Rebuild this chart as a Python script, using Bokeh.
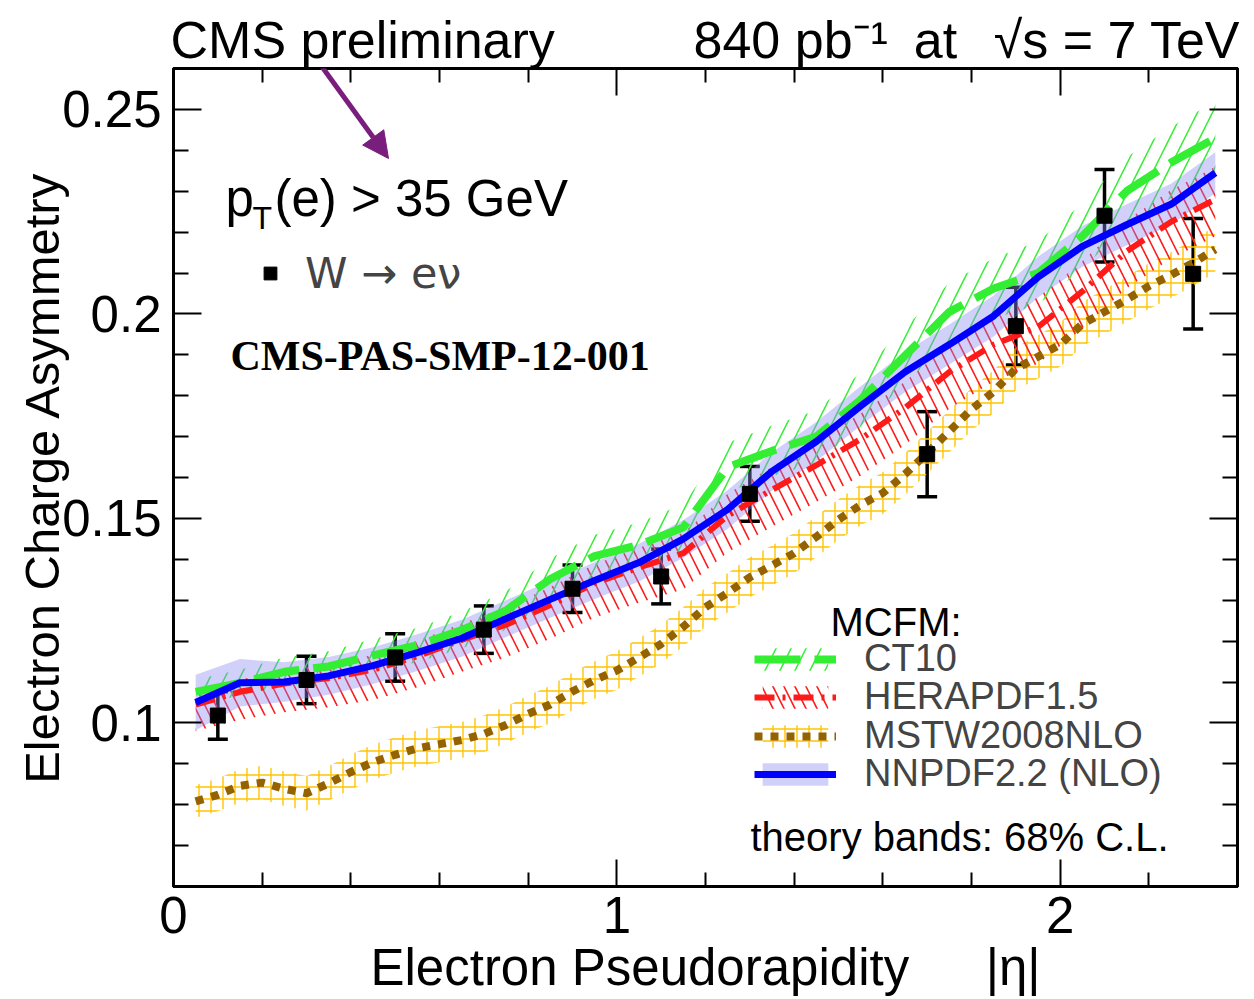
import numpy as np
from bokeh.plotting import figure
from bokeh.models import (ColumnDataSource, Whisker, TeeHead, Label, Legend, LegendItem,
                          LinearAxis, FixedTicker, Arrow, NormalHead)
from bokeh.embed import file_html
from bokeh.resources import INLINE

# ---------------- data ----------------
eta_data = [0.1, 0.3, 0.5, 0.7, 0.9, 1.1, 1.3, 1.7, 1.9, 2.1, 2.3]
asym_data = [0.1018, 0.1105, 0.1160, 0.1228, 0.1328, 0.1358, 0.1560, 0.1657, 0.1970, 0.2240, 0.2098]
asym_err = [0.0058, 0.0058, 0.0058, 0.0058, 0.0058, 0.0067, 0.0067, 0.0104, 0.0095, 0.0113, 0.0135]

eta_th = [0.05, 0.15, 0.25, 0.35, 0.45, 0.55, 0.65, 0.75, 0.85, 0.95, 1.05, 1.15,
          1.25, 1.35, 1.45, 1.55, 1.65, 1.75, 1.85, 1.95, 2.05, 2.15, 2.25, 2.35]

ct10 = [0.1076, 0.1098, 0.1125, 0.1138, 0.1165, 0.1190, 0.1227, 0.1275, 0.1352, 0.1408, 0.1435, 0.1478,
        0.1625, 0.1665, 0.1700, 0.1790, 0.1898, 0.2005, 0.2062, 0.2100, 0.2190, 0.2300, 0.2370, 0.2430]
ct10_err = [0.0030, 0.0032, 0.0035, 0.0037, 0.0040, 0.0042, 0.0045, 0.0047, 0.0050, 0.0052, 0.0055, 0.0057,
            0.0060, 0.0062, 0.0064, 0.0066, 0.0068, 0.0071, 0.0074, 0.0077, 0.0080, 0.0083, 0.0087, 0.0090]

hera = [0.1045, 0.1076, 0.1096, 0.1110, 0.1130, 0.1163, 0.1203, 0.1240, 0.1288, 0.1342, 0.1380, 0.1415,
        0.1507, 0.1570, 0.1630, 0.1694, 0.1770, 0.1858, 0.1925, 0.1968, 0.2055, 0.2153, 0.2225, 0.2280]
hera_err_up = [0.0030, 0.0030, 0.0032, 0.0034, 0.0036, 0.0038, 0.0040, 0.0042, 0.0044, 0.0046, 0.0048, 0.0050,
               0.0053, 0.0056, 0.0059, 0.0062, 0.0065, 0.0068, 0.0070, 0.0072, 0.0074, 0.0076, 0.0078, 0.0080]
hera_err_dn = [0.0065, 0.0068, 0.0070, 0.0072, 0.0074, 0.0076, 0.0078, 0.0080, 0.0082, 0.0084, 0.0086, 0.0088,
               0.0090, 0.0090, 0.0090, 0.0090, 0.0090, 0.0090, 0.0090, 0.0090, 0.0090, 0.0090, 0.0090, 0.0090]

nnpdf = [0.1050, 0.1098, 0.1100, 0.1115, 0.1140, 0.1172, 0.1207, 0.1255, 0.1302, 0.1348, 0.1392, 0.1450,
         0.1522, 0.1615, 0.1688, 0.1775, 0.1858, 0.1925, 0.1995, 0.2090, 0.2165, 0.2218, 0.2268, 0.2345]
nnpdf_err = [0.0068, 0.0058, 0.0048, 0.0046, 0.0045, 0.0045, 0.0045, 0.0045, 0.0045, 0.0045, 0.0046, 0.0046,
             0.0047, 0.0047, 0.0048, 0.0048, 0.0049, 0.0049, 0.0050, 0.0050, 0.0050, 0.0050, 0.0050, 0.0050]

eta_mstw = [0.05, 0.10, 0.15, 0.20, 0.25, 0.30, 0.35, 0.40, 0.45, 0.50,
            0.55, 0.60, 0.65, 0.70, 0.75, 0.80, 0.85, 0.90, 0.95, 1.00,
            1.05, 1.10, 1.15, 1.20, 1.25, 1.30, 1.35, 1.40, 1.45, 1.50,
            1.55, 1.60, 1.65, 1.70, 1.75, 1.80, 1.85, 1.90, 1.95, 2.00,
            2.05, 2.10, 2.15, 2.20, 2.25, 2.30, 2.35]
mstw = [0.0808, 0.0824, 0.0846, 0.0854, 0.0839, 0.0828, 0.0852, 0.0880, 0.0904, 0.0922,
        0.0938, 0.0948, 0.0958, 0.0973, 0.0995, 0.1022, 0.1045, 0.1077, 0.1105, 0.1128,
        0.1160, 0.1193, 0.1235, 0.1283, 0.1318, 0.1356, 0.1385, 0.1415, 0.1455, 0.1497,
        0.1533, 0.1562, 0.1608, 0.1660, 0.1713, 0.1767, 0.1810, 0.1866, 0.1895, 0.1925,
        0.1975, 0.2005, 0.2035, 0.2068, 0.2095, 0.2125, 0.2158]
mstw_err = [0.0040, 0.0040, 0.0041, 0.0041, 0.0042, 0.0042, 0.0042, 0.0043, 0.0043, 0.0043,
            0.0044, 0.0044, 0.0044, 0.0045, 0.0045, 0.0045, 0.0046, 0.0046, 0.0046, 0.0047,
            0.0047, 0.0047, 0.0048, 0.0048, 0.0048, 0.0049, 0.0049, 0.0049, 0.0050, 0.0050,
            0.0050, 0.0051, 0.0051, 0.0051, 0.0052, 0.0052, 0.0052, 0.0053, 0.0053, 0.0054,
            0.0054, 0.0055, 0.0055, 0.0056, 0.0056, 0.0057, 0.0057]

x_major = [0, 1, 2]
x_minor = [0.2, 0.4, 0.6, 0.8, 1.2, 1.4, 1.6, 1.8, 2.2]
y_major = [0.1, 0.15, 0.2, 0.25]
y_major_labels = ["0.1", "0.15", "0.2", "0.25"]
y_minor = [0.06, 0.07, 0.08, 0.09, 0.11, 0.12, 0.13, 0.14, 0.16, 0.17, 0.18, 0.19,
           0.21, 0.22, 0.23, 0.24, 0.26]

EM = "\u2003"
EN = "\u2002"
SX = "\u2006"
TH = "\u2009"
top_text = ("CMS preliminary" + EM + EM + EN + SX +
            "840 pb\u207b\u00b9" + EN + "at" + EN + TH + "\u221as = 7 TeV")
x_title = "Electron Pseudorapidity" + EM + EN + "|\u03b7|"
y_title = "Electron Charge Asymmetry"

# ---------------- colours ----------------
GREEN = "#33ee33"
RED = "#ff1a1a"
BROWN = "#946200"
GOLD = "#ffc400"
BLUE = "#0000ff"
PURPLE = "#7a1e7e"
FONT = "Liberation Sans"

# ---------------- figure ----------------
p = figure(width=1254, height=999, x_range=(0, 2.4), y_range=(0.06, 0.26),
           output_backend="svg", toolbar_location=None,
           min_border_left=173, min_border_right=17, min_border_top=68, min_border_bottom=113)
p.xgrid.visible = False
p.ygrid.visible = False
p.outline_line_color = "black"
p.outline_line_width = 3
p.background_fill_color = "white"
p.border_fill_color = "white"

xt = FixedTicker(ticks=x_major, minor_ticks=x_minor)
yt = FixedTicker(ticks=y_major, minor_ticks=y_minor)

def style_axis(ax, major_len, minor_len, show_labels):
    ax.axis_line_width = 3
    ax.axis_line_color = "black"
    ax.major_tick_in = major_len
    ax.major_tick_out = 0
    ax.minor_tick_in = minor_len
    ax.minor_tick_out = 0
    ax.major_tick_line_width = 2
    ax.minor_tick_line_width = 2
    ax.major_tick_line_color = "black"
    ax.minor_tick_line_color = "black"
    ax.axis_label_text_font = FONT
    ax.axis_label_text_font_style = "normal"
    ax.axis_label_text_color = "black"
    if show_labels:
        ax.major_label_text_font = FONT
        ax.major_label_text_font_size = "51px"
        ax.major_label_text_color = "black"
    else:
        ax.major_label_text_font_size = "1px"
        ax.major_label_text_color = None
        ax.major_label_standoff = 0

xa = p.xaxis[0]
xa.ticker = xt
style_axis(xa, 27, 14, True)
xa.major_label_standoff = 10
xa.axis_label = x_title
xa.axis_label_text_font_size = "51px"
xa.axis_label_standoff = 3

ya = p.yaxis[0]
ya.ticker = yt
style_axis(ya, 28, 15, True)
ya.major_label_standoff = 12
ya.major_label_overrides = {v: s for v, s in zip(y_major, y_major_labels)}
ya.axis_label = y_title
ya.axis_label_text_font_size = "49px"
ya.axis_label_standoff = -10

top_ax = LinearAxis(ticker=xt)
style_axis(top_ax, 27, 14, False)
top_ax.axis_label = top_text
top_ax.axis_label_text_font_size = "52px"
top_ax.axis_label_standoff = 0
p.add_layout(top_ax, "above")
right_ax = LinearAxis(ticker=yt)
style_axis(right_ax, 28, 15, False)
p.add_layout(right_ax, "right")

# ---------------- theory bands ----------------
th = ColumnDataSource(dict(
    eta=eta_th,
    ct10=ct10,
    ct10_lo=[c - e for c, e in zip(ct10, ct10_err)],
    ct10_hi=[c + e for c, e in zip(ct10, ct10_err)],
    hera=hera,
    hera_lo=[c - e for c, e in zip(hera, hera_err_dn)],
    hera_hi=[c + e for c, e in zip(hera, hera_err_up)],
    nnpdf=nnpdf,
    nnpdf_lo=[c - e for c, e in zip(nnpdf, nnpdf_err)],
    nnpdf_hi=[c + e for c, e in zip(nnpdf, nnpdf_err)],
))
ms = ColumnDataSource(dict(
    eta=eta_mstw, mstw=mstw,
    lo=[c - e for c, e in zip(mstw, mstw_err)],
    hi=[c + e for c, e in zip(mstw, mstw_err)],
))

b_mstw = p.varea(x="eta", y1="lo", y2="hi", source=ms, fill_color=None,
                 hatch_pattern="+", hatch_color=GOLD, hatch_scale=12, hatch_weight=1.4)
b_hera = p.varea(x="eta", y1="hera_lo", y2="hera_hi", source=th, fill_color=None,
                 hatch_pattern="\\", hatch_color=RED, hatch_scale=22, hatch_weight=1.6)
b_ct10 = p.varea(x="eta", y1="ct10_lo", y2="ct10_hi", source=th, fill_color=None,
                 hatch_pattern="/", hatch_color=GREEN, hatch_scale=30, hatch_weight=1.5)
b_nnpdf = p.varea(x="eta", y1="nnpdf_lo", y2="nnpdf_hi", source=th,
                  fill_color="#8a8af5", fill_alpha=0.40)

# ---------------- theory lines ----------------
l_mstw = p.line("eta", "mstw", source=ms, line_color=BROWN, line_width=8, line_dash="8 8")
l_hera = p.line("eta", "hera", source=th, line_color=RED, line_width=6, line_dash="20 8 3 8")
l_ct10 = p.line("eta", "ct10", source=th, line_color=GREEN, line_width=8, line_dash="46 14")
l_nnpdf = p.line("eta", "nnpdf", source=th, line_color=BLUE, line_width=7)

# ---------------- data ----------------
ds = ColumnDataSource(dict(
    x=eta_data, y=asym_data,
    lo=[a - e for a, e in zip(asym_data, asym_err)],
    hi=[a + e for a, e in zip(asym_data, asym_err)],
))
wh = Whisker(source=ds, base="x", lower="lo", upper="hi", line_width=3.5, line_color="black",
             upper_head=TeeHead(size=20, line_width=3.5, line_color="black"),
             lower_head=TeeHead(size=20, line_width=3.5, line_color="black"))
p.add_layout(wh)
pts = p.scatter("x", "y", source=ds, marker="square", size=15, color="black")

# ---------------- legends ----------------
leg_data = Legend(items=[LegendItem(label="W \u2192 e\u03bd", renderers=[pts])],
                  location=(81, 588), padding=0, margin=0, border_line_color=None,
                  background_fill_alpha=0, glyph_width=32, glyph_height=32,
                  label_standoff=19, label_text_font="DejaVu Sans", label_text_font_size="43px")
p.add_layout(leg_data)

def th_legend(label, renderers, yc):
    lg = Legend(items=[LegendItem(label=label, renderers=renderers)],
                location=(581, 886 - yc - 22), padding=0, margin=0, border_line_color=None,
                background_fill_alpha=0, glyph_width=82, glyph_height=28, label_standoff=28,
                label_text_font=FONT, label_text_font_size="38px")
    p.add_layout(lg)

th_legend("CT10", [b_ct10, l_ct10], 658)
th_legend("HERAPDF1.5", [b_hera, l_hera], 696)
th_legend("MSTW2008NLO", [b_mstw, l_mstw], 735)
th_legend("NNPDF2.2 (NLO)", [b_nnpdf, l_nnpdf], 773)

# ---------------- texts inside the frame (screen units from frame bottom-left (173, 886)) ----------------
def sx(px):
    return px - 173

def sy(py):
    return 886 - py

def lab(text, px, py, size, align="left", font=FONT, style="normal"):
    p.add_layout(Label(x=sx(px), y=sy(py), x_units="screen", y_units="screen", text=text,
                       text_font=font, text_font_size=size, text_font_style=style,
                       text_align=align, text_baseline="alphabetic", text_color="black"))

lab("p", 225, 198, "51px")
lab("T", 252, 217, "32px")
lab("(e) > 35 GeV", 274, 198, "51px")
lab("CMS-PAS-SMP-12-001", 230, 355, "42px", font="Liberation Serif", style="bold")
lab("MCFM:", 830, 621, "40px")
lab("theory bands: 68% C.L.", 750, 836, "40px")

# arrow (pixel positions converted to data coordinates)
def dx(px):
    return (px - 173) / 1064 * 2.4

def dy(py):
    return 0.06 + (886 - py) / 818 * 0.2

p.add_layout(Arrow(end=NormalHead(size=26, fill_color=PURPLE, line_color=PURPLE),
                   x_start=dx(272), y_start=dy(-2), x_end=dx(388), y_end=dy(158),
                   line_color=PURPLE, line_width=5))

open("out.html", "w").write(file_html(p, INLINE))
